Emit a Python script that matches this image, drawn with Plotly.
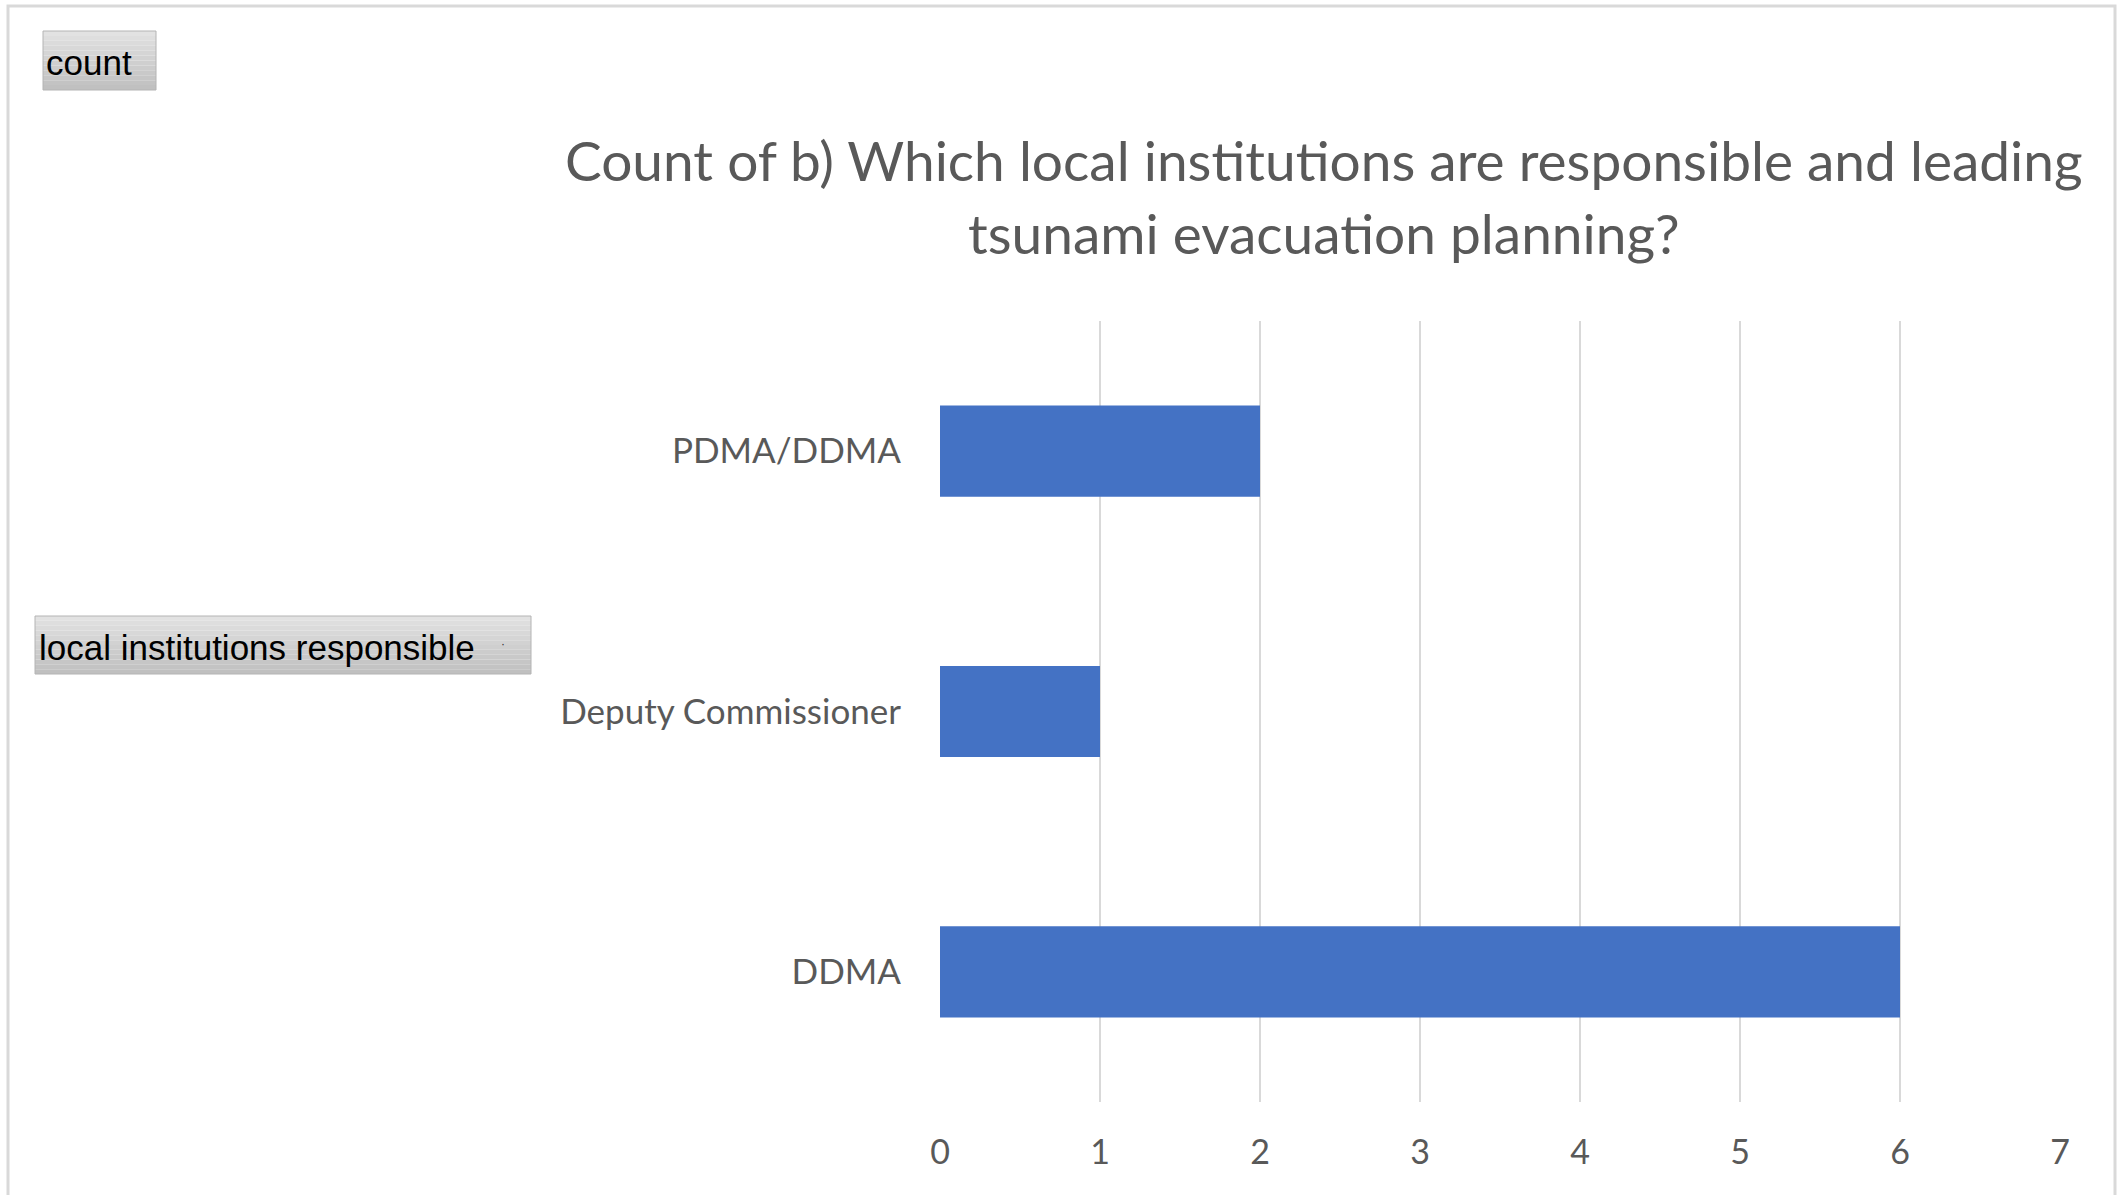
import plotly.graph_objects as go

categories = ["DDMA", "Deputy Commissioner", "PDMA/DDMA"]
counts = [6, 1, 2]
x_ticks = [0, 1, 2, 3, 4, 5, 6, 7]
title_line1 = "Count of b) Which local institutions are responsible and leading"
title_line2 = "tsunami evacuation planning?"

W, H = 2117, 1195
L, R, T, B = 940, 2060, 321, 1102  # plot area in pixels


def px(x):
    return (x - L) / (R - L)


def py(y):
    return (B - y) / (B - T)


fig = go.Figure(go.Bar(
    y=categories, x=counts, orientation="h",
    marker=dict(color="#4472C4", line=dict(width=0)),
    hoverinfo="skip",
))

shapes = []
# outer frame
shapes.append(dict(type="rect", xref="paper", yref="paper",
                   x0=px(8), x1=px(2115), y0=py(1198), y1=py(6),
                   line=dict(color="#d9d9d9", width=3), fillcolor="rgba(0,0,0,0)", layer="below"))


def button(x0, x1, y0, y1, n=12):
    for i in range(n):
        ya = y0 + (y1 - y0) * i / n
        yb = y0 + (y1 - y0) * (i + 1) / n
        t = i / (n - 1)
        g = int(226 - (226 - 192) * t)
        shapes.append(dict(type="rect", xref="paper", yref="paper",
                           x0=px(x0), x1=px(x1), y0=py(yb), y1=py(ya),
                           line=dict(width=0), fillcolor=f"rgb({g},{g},{g})", layer="below"))
    shapes.append(dict(type="rect", xref="paper", yref="paper",
                       x0=px(x0), x1=px(x1), y0=py(y1), y1=py(y0),
                       line=dict(color="#b4b4b4", width=1), fillcolor="rgba(0,0,0,0)", layer="below"))


button(43, 156, 31, 90)
button(35, 531, 616, 674)

annotations = [
    dict(text=title_line1, xref="paper", yref="paper", x=px(1324), y=py(160),
         xanchor="center", yanchor="middle", showarrow=False,
         font=dict(family="Lato", size=55, color="#595959")),
    dict(text=title_line2, xref="paper", yref="paper", x=px(1324), y=py(233),
         xanchor="center", yanchor="middle", showarrow=False,
         font=dict(family="Lato", size=55, color="#595959")),
    dict(text="count", xref="paper", yref="paper", x=px(44), y=py(62),
         xanchor="left", yanchor="middle", showarrow=False,
         font=dict(family="Liberation Sans Narrow, Liberation Sans", size=35, color="#000000")),
    dict(text="local institutions responsible", xref="paper", yref="paper", x=px(37), y=py(647),
         xanchor="left", yanchor="middle", showarrow=False,
         font=dict(family="Liberation Sans Narrow, Liberation Sans", size=35, color="#000000")),
    dict(text="·", xref="paper", yref="paper", x=px(503), y=py(644),
         xanchor="center", yanchor="middle", showarrow=False,
         font=dict(family="Liberation Sans", size=12, color="#333333")),
]

fig.update_layout(
    width=W, height=H,
    margin=dict(l=L, r=W - R, t=T, b=H - B, pad=0),
    paper_bgcolor="white", plot_bgcolor="white",
    showlegend=False,
    bargap=0.65,
    shapes=shapes,
    annotations=annotations,
    xaxis=dict(range=[0, 7], tickvals=x_ticks, showgrid=True, gridcolor="#d9d9d9", gridwidth=2,
               zeroline=False, showline=False, ticks="outside", ticklen=20,
               tickcolor="rgba(0,0,0,0)",
               tickfont=dict(family="Lato", size=34, color="#595959"), fixedrange=True),
    yaxis=dict(showgrid=False, zeroline=False, showline=False, ticks="outside", ticklen=31,
               tickcolor="rgba(0,0,0,0)",
               tickfont=dict(family="Lato", size=35, color="#595959"), fixedrange=True),
)

fig.write_html("out.html", config=dict(displayModeBar=False),
               post_script="document.body.style.margin='0';document.body.style.overflow='hidden';")
